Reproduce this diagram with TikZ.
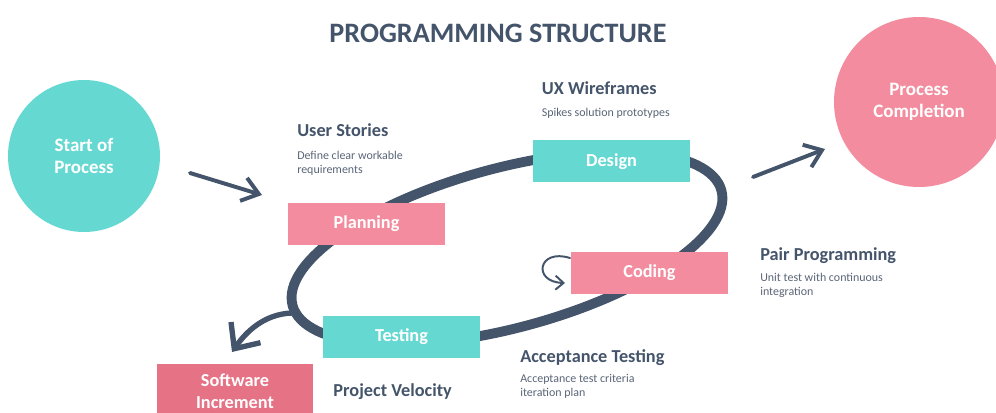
\documentclass[tikz,border=0pt]{standalone}
\usepackage{fontspec}
\setmainfont{Carlito}
\usepackage{tikz}
\usetikzlibrary{arrows.meta}
\definecolor{slate}{RGB}{68,84,106}
\definecolor{teal1}{RGB}{102,216,210}
\definecolor{pink1}{RGB}{242,140,158}
\definecolor{pink2}{RGB}{229,114,133}
\definecolor{notegray}{RGB}{89,100,118}

\begin{document}
\begin{tikzpicture}[
	stage/.style={minimum width=3.925cm, minimum height=1.05cm, inner sep=0pt, text=white, align=center, font=\fontsize{13}{15.6}\selectfont\bfseries},
	blob/.style={circle, inner sep=0pt, text=white, align=center, font=\fontsize{13.5}{15.6}\selectfont\bfseries},
	head/.style={anchor=base west, inner sep=0pt, text=slate, font=\fontsize{13}{15}\selectfont\bfseries},
	note/.style={anchor=base west, inner sep=0pt, text=notegray, align=left, font=\fontsize{8.5}{10.2}\selectfont},
	flow/.style={slate, line width=2.8pt, line cap=round, -{Straight Barb[length=0.4cm,width=0.6cm]}}
	]
					\useasboundingbox (0,0) rectangle (24.9,10.3);
					\draw[slate, line width=7pt, rotate around={15:(12.675,4.1)}] (12.675,4.1) ellipse [x radius=5.55cm, y radius=2cm];
					\node[anchor=base, text=slate, font=\fontsize{20}{24}\selectfont\bfseries] (title) at (12.45,9.225) {PROGRAMMING STRUCTURE};
					\node[blob, fill=teal1, minimum size=3.8cm] (start) at (2.1,6.4) {Start of\\Process};
					\node[blob, fill=pink1, minimum size=4.25cm] (done) at (22.975,7.75) {Process\\Completion};
					\node[stage, fill=pink1] (plan) at (9.1625,4.7) {Planning};
					\node[stage, fill=teal1] (design) at (15.2875,6.2625) {Design};
					\node[stage, fill=pink1] (code) at (16.2375,3.475) {Coding};
					\node[stage, fill=teal1] (test) at (10.0375,1.875) {Testing};
					\node[stage, fill=pink2, minimum width=3.9cm, minimum height=1.35cm] (incr) at (5.875,0.525) {Software\\Increment};
					\node[head] (us) at (7.425,6.875) {User Stories};
					\node[note] (usnote) at (7.425,5.95) {Define clear workable\\requirements};
					\node[head] (ux) at (13.54,7.925) {UX Wireframes};
					\node[note] (uxnote) at (13.54,7.375) {Spikes solution prototypes};
					\node[head] (pp) at (19.0,3.78) {Pair Programming};
					\node[note] (ppnote) at (19.0,2.9) {Unit test with continuous\\integration};
					\node[head] (at) at (13.0,1.23) {Acceptance Testing};
					\node[note] (atnote) at (13.0,0.38) {Acceptance test criteria\\iteration plan};
					\node[head] (pv) at (8.33,0.38) {Project Velocity};
					\coordinate (a1) at (4.75,5.975);
					\coordinate (a2) at (6.55,5.425);
					\coordinate (b1) at (18.825,5.875);
					\coordinate (b2) at (20.625,6.575);
					\coordinate (c1) at (7.3,2.475);
					\coordinate (c2) at (5.8,1.5);
					\coordinate (d1) at (14.25,3.85);
					\coordinate (d2) at (14.125,3.225);
					\draw[flow] (a1) -- (a2);
					\draw[flow] (b1) -- (b2);
					\draw[flow, line width=3.8pt, -{Straight Barb[length=0.5cm,width=0.9cm]}] (c1) .. controls (6.6,2.45) and (6.15,2.0) .. (c2);
					\draw[flow, line width=1.4pt, -{Straight Barb[length=0.2cm,width=0.35cm]}] (d1) .. controls (13.45,4.1) and (13.3,3.25) .. (d2);
\end{tikzpicture}
\end{document}
